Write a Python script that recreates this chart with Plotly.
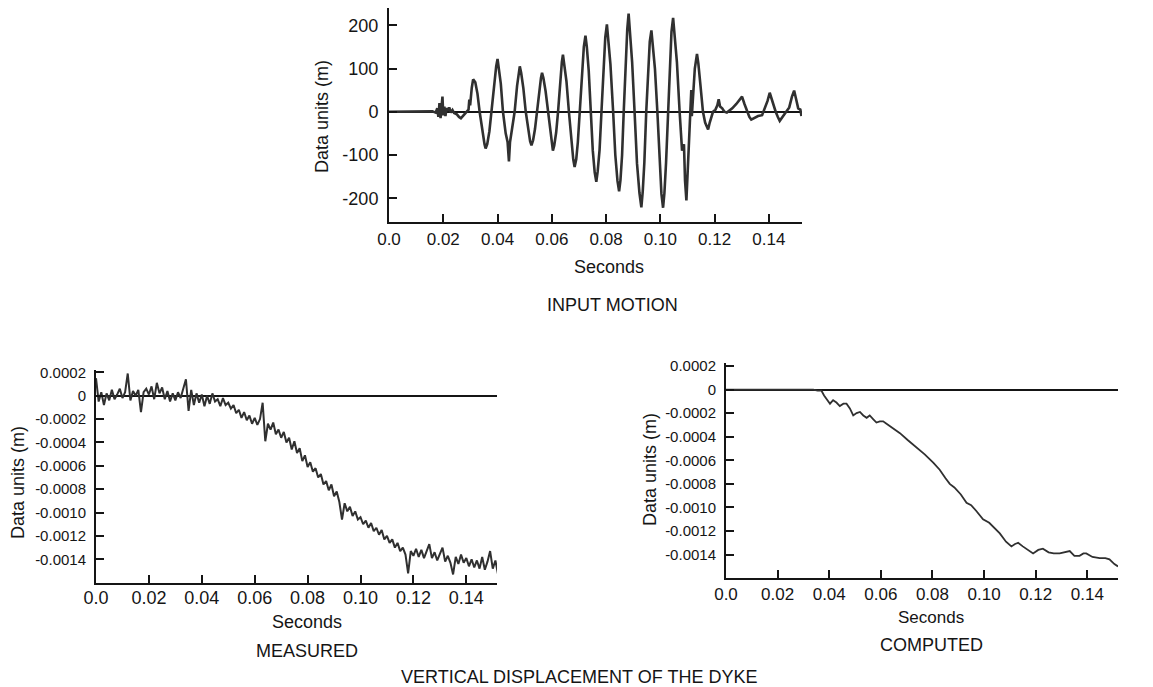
import plotly.graph_objects as go

W, H = 1153, 687

# ---------------- data ----------------
# INPUT MOTION (seconds, data units)
t_input = [0.000, 0.008, 0.014, 0.016, 0.0172, 0.0178, 0.0182, 0.0186, 0.0190, 0.0194, 0.0197, 0.0200,
           0.0204, 0.0208, 0.0212, 0.0218, 0.0222, 0.0228, 0.0234, 0.024, 0.025, 0.0258, 0.0265, 0.0272,
           0.028, 0.0288, 0.0293, 0.0296, 0.0299, 0.0305, 0.031, 0.0318, 0.0326, 0.0334, 0.0345, 0.0352,
           0.0356, 0.0362, 0.0370, 0.0377, 0.0388, 0.0395, 0.0400, 0.0405, 0.0412, 0.0420, 0.0430, 0.0437,
           0.0442, 0.0446, 0.0454, 0.0463, 0.0472, 0.0478, 0.0482, 0.0487, 0.0495, 0.0504, 0.0513, 0.0520,
           0.0525, 0.0531, 0.0538, 0.0545, 0.0553, 0.0560, 0.0564, 0.0569, 0.0577, 0.0586, 0.0595, 0.0600,
           0.0604, 0.0609, 0.0616, 0.0623, 0.0631, 0.0637, 0.0641, 0.0646, 0.0654, 0.0663, 0.0672, 0.0679,
           0.0684, 0.0690, 0.0696, 0.0703, 0.0711, 0.0718, 0.0724, 0.0729, 0.0736, 0.0743, 0.0751, 0.0758,
           0.0764, 0.0769, 0.0776, 0.0783, 0.0791, 0.0797, 0.0803, 0.0808, 0.0816, 0.0826, 0.0834, 0.0842,
           0.0848, 0.0853, 0.0859, 0.0865, 0.0872, 0.0878, 0.0883, 0.0888, 0.0896, 0.0905, 0.0914, 0.0923,
           0.0930, 0.0935, 0.0941, 0.0948, 0.0955, 0.0961, 0.0967, 0.0972, 0.0980, 0.0989, 0.0997, 0.1004,
           0.1010, 0.1015, 0.1021, 0.1028, 0.1035, 0.1041, 0.1047, 0.1052, 0.1061, 0.1071, 0.1080, 0.1087,
           0.1091, 0.1096, 0.1101, 0.1107, 0.1112, 0.1114, 0.1116, 0.1120, 0.1127, 0.1135, 0.1140, 0.1148,
           0.1157, 0.1165, 0.1172, 0.1176, 0.1182, 0.1188, 0.1194, 0.1203, 0.1210, 0.1215, 0.1220, 0.1228,
           0.1236, 0.1245, 0.1255, 0.1265, 0.1280, 0.1290, 0.1301, 0.1310, 0.1320, 0.1328, 0.1335, 0.1345,
           0.1360, 0.1375, 0.1385, 0.1395, 0.1403, 0.1412, 0.1425, 0.1433, 0.1440, 0.1450, 0.1465, 0.1475,
           0.1485, 0.1493, 0.1500, 0.1508, 0.1516, 0.1520]
v_input = [0, 0, 0, 1, -2, 8, -12, 20, -15, 10, 35, -8,
           12, -10, 8, 3, 10, -2, 4, -3, -6, -12, -15, -10,
           -5, 0, 5, 28, 15, 55, 75, 68, 42, 0, -50, -75,
           -85, -75, -45, 0, 70, 105, 122, 100, 65, 0, -50, -70,
           -115, -70, -40, 0, 60, 90, 105, 90, 55, 0, -45, -68,
           -78, -66, -40, 0, 50, 78, 90, 78, 48, 0, -52, -78,
           -90, -78, -48, 0, 72, 115, 132, 112, 70, 0, -72, -110,
           -128, -110, -70, 0, 95, 150, 176, 150, 95, 0, -90, -140,
           -162, -138, -88, 0, 110, 172, 202, 172, 110, 0, -100, -160,
           -184, -158, -100, 0, 120, 190, 227, 185, 115, 0, -120, -188,
           -221, -185, -118, 0, 102, 162, 188, 160, 100, 0, -120, -190,
           -222, -188, -118, 0, 118, 185, 217, 185, 115, 0, -90, -75,
           -160, -205, -130, -50, 20, 50, -10, 30, 100, 134, 112, 60,
           0, -25, -35, -41, -25, -12, 0, 5, 15, 29, 12, 8,
           0, -2, 3, 8, 18, 25, 35, 18, 0, -12, -18, -14,
           -10, -8, 8, 25, 44, 25, 0, -12, -21, -12, 0, 10,
           35, 49, 30, 8, 5, -10]

# MEASURED vertical displacement, sampled every 1 ms (values in 1e-4 m)
t_measured = [round(i * 0.001, 3) for i in range(153)]
v_measured_e4 = [1.5, -0.5, 0.3, -0.8, 0.2, -0.4, 0.5, -0.3, 0.1, 0.6,
                 -0.2, 0.3, 1.9, -0.4, 0.4, 0.0, 0.5, -1.4, 0.3, 0.6,
                 0.1, 0.8, -0.3, 1.1, 0.2, 0.7, -0.3, 0.4, -0.5, 0.2,
                 -0.4, 0.3, -0.2, 0.6, 1.4, -1.3, 0.5, -0.8, 0.2, -0.6,
                 0.1, -0.9, 0.0, -0.7, 0.2, -0.5, -0.3, -0.9, -0.2, -0.8,
                 -0.6, -1.1, -0.8, -1.5, -1.2, -1.9, -1.4, -2.1, -1.7, -2.4,
                 -1.9, -2.5, -2.0, -0.6, -3.9, -2.4, -2.9, -2.3, -3.3, -2.9,
                 -3.6, -3.1, -4.0, -3.6, -4.6, -3.9, -4.9, -4.5, -5.6, -5.1,
                 -6.1, -5.7, -6.5, -6.2, -7.0, -6.7, -7.6, -7.3, -8.1, -7.6,
                 -8.6, -8.2, -9.1, -10.6, -9.2, -9.9, -9.5, -10.3, -9.9, -10.6,
                 -10.4, -11.0, -10.7, -11.3, -10.9, -11.6, -11.3, -11.9, -11.5, -12.3,
                 -12.0, -12.6, -12.3, -13.0, -12.6, -13.3, -13.0, -13.6, -15.2, -13.3,
                 -13.7, -13.1, -13.8, -13.2, -13.9, -13.3, -12.7, -13.9, -13.4, -14.1,
                 -13.5, -13.0, -14.2, -13.7, -14.3, -15.3, -13.8, -14.4, -13.6, -14.3,
                 -13.9, -14.6, -14.0, -14.7, -14.1, -14.8, -13.8, -14.9, -14.2, -13.3,
                 -14.8, -14.1, -15.3]

# COMPUTED vertical displacement (values in 1e-4 m)
t_computed = [0.0000, 0.0338, 0.0355, 0.0370, 0.0380, 0.0392, 0.0403, 0.0415, 0.0428, 0.0441, 0.0455,
              0.0467, 0.0480, 0.0493, 0.0506, 0.0519, 0.0532, 0.0545, 0.0557, 0.0570, 0.0583,
              0.0596, 0.0609, 0.0622, 0.0635, 0.0655, 0.0674, 0.0705, 0.0738, 0.0770, 0.0803,
              0.0828, 0.0850, 0.0867, 0.0885, 0.0910, 0.0932, 0.0950, 0.0970, 0.0996, 0.1020,
              0.1040, 0.1061, 0.1085, 0.1106, 0.1120, 0.1132, 0.1150, 0.1170, 0.1190, 0.1210,
              0.1228, 0.1250, 0.1270, 0.1293, 0.1315, 0.1332, 0.1350, 0.1370, 0.1385, 0.1396,
              0.1420, 0.1448, 0.1470, 0.1486, 0.1505, 0.1519]
v_computed_e4 = [0.0, 0.0, -0.1, -0.1, -0.5, -0.9, -1.2, -0.9, -1.1, -1.4, -1.2,
                 -1.2, -1.6, -2.2, -2.0, -1.9, -2.2, -2.4, -2.2, -2.5, -2.8,
                 -2.7, -2.7, -2.9, -3.1, -3.4, -3.7, -4.3, -4.9, -5.5, -6.2,
                 -6.8, -7.5, -8.0, -8.3, -8.9, -9.6, -9.8, -10.3, -11.0, -11.3,
                 -11.7, -12.2, -12.9, -13.3, -13.1, -13.0, -13.3, -13.6, -13.9, -13.6,
                 -13.5, -13.8, -13.9, -13.9, -13.8, -13.7, -14.1, -14.1, -13.9, -13.9,
                 -14.2, -14.3, -14.3, -14.4, -14.8, -15.0]

x_tickvals = [0.0, 0.02, 0.04, 0.06, 0.08, 0.10, 0.12, 0.14]
x_ticktext = ["0.0", "0.02", "0.04", "0.06", "0.08", "0.10", "0.12", "0.14"]
y1_tickvals = [200, 100, 0, -100, -200]
y1_ticktext = ["200", "100", "0", "-100", "-200"]
yd_tickvals_e4 = [2, 0, -2, -4, -6, -8, -10, -12, -14]
yd_ticktext = ["0.0002", "0", "-0.0002", "-0.0004", "-0.0006", "-0.0008",
               "-0.0010", "-0.0012", "-0.0014"]

# ---------------- styling ----------------
FONT = "Liberation Sans, Arial, Helvetica, sans-serif"
INK = "#151515"
LINE = "#303030"


def px_x(p):
    return p / W


def px_y(p):
    return 1 - p / H


def xaxis(domain, rng, anchor, size, standoff):
    return dict(domain=domain, range=rng, anchor=anchor, showgrid=False, zeroline=False,
                automargin=False, showline=True, linecolor=INK, linewidth=2, ticks="inside",
                ticklen=8, tickwidth=1.6, tickcolor=INK, tickvals=x_tickvals, ticktext=x_ticktext,
                ticklabelstandoff=standoff,
                tickfont=dict(family=FONT, size=size, color=INK), fixedrange=True)


def yaxis(domain, rng, anchor, tv, tt, size):
    return dict(domain=domain, range=rng, anchor=anchor, showgrid=False, zeroline=True,
                automargin=False, zerolinecolor=INK, zerolinewidth=1.6, showline=True,
                linecolor=INK, linewidth=2, ticks="inside", ticklen=8, tickwidth=1.6,
                tickcolor=INK, tickvals=tv, ticktext=tt, ticklabelstandoff=5,
                tickfont=dict(family=FONT, size=size, color=INK), fixedrange=True)


fig = go.Figure()
fig.add_trace(go.Scatter(x=t_input, y=v_input, mode="lines", xaxis="x", yaxis="y",
                         line=dict(color=LINE, width=2.6), showlegend=False, hoverinfo="skip"))
fig.add_trace(go.Scatter(x=t_measured, y=[v * 1e-4 for v in v_measured_e4], mode="lines",
                         xaxis="x2", yaxis="y2", line=dict(color=LINE, width=2.0),
                         showlegend=False, hoverinfo="skip"))
fig.add_trace(go.Scatter(x=t_computed, y=[v * 1e-4 for v in v_computed_e4], mode="lines",
                         xaxis="x3", yaxis="y3", line=dict(color=LINE, width=1.8),
                         showlegend=False, hoverinfo="skip"))

annotations = []


def label(text, x, y, size=18, angle=0):
    annotations.append(dict(text=text, x=px_x(x), y=px_y(y), xref="paper", yref="paper",
                            showarrow=False, textangle=angle, xanchor="center", yanchor="middle",
                            font=dict(family=FONT, size=size, color=INK)))


label("Seconds", 609, 267)
label("INPUT MOTION", 612, 305)
label("Data units (m)", 322, 117, angle=-90)
label("Seconds", 307, 622)
label("MEASURED", 307, 651)
label("Data units (m)", 18, 483, angle=-90)
label("Seconds", 931, 617, size=17)
label("COMPUTED", 931, 645)
label("Data units (m)", 650, 470, angle=-90)
label("VERTICAL DISPLACEMENT OF THE DYKE", 579, 677)

fig.update_layout(
    width=W, height=H, margin=dict(l=0, r=0, t=0, b=0, autoexpand=False),
    paper_bgcolor="white", plot_bgcolor="white",
    xaxis=xaxis([px_x(389), px_x(802)], [0, 0.1522], "y", 17, 1),
    yaxis=yaxis([px_y(222), px_y(8)], [-255, 240], "x", y1_tickvals, y1_ticktext, 18),
    xaxis2=xaxis([px_x(96), px_x(497)], [0, 0.1516], "y2", 18, -3),
    yaxis2=yaxis([px_y(583), px_y(370)], [-0.001603, 0.00022], "x2",
                 [v * 1e-4 for v in yd_tickvals_e4], yd_ticktext, 15),
    xaxis3=xaxis([px_x(726), px_x(1118)], [0, 0.1519], "y3", 17, 0),
    yaxis3=yaxis([px_y(578), px_y(363)], [-0.001598, 0.000225], "x3",
                 [v * 1e-4 for v in yd_tickvals_e4], yd_ticktext, 15),
    annotations=annotations,
)

fig.write_html("out.html")
